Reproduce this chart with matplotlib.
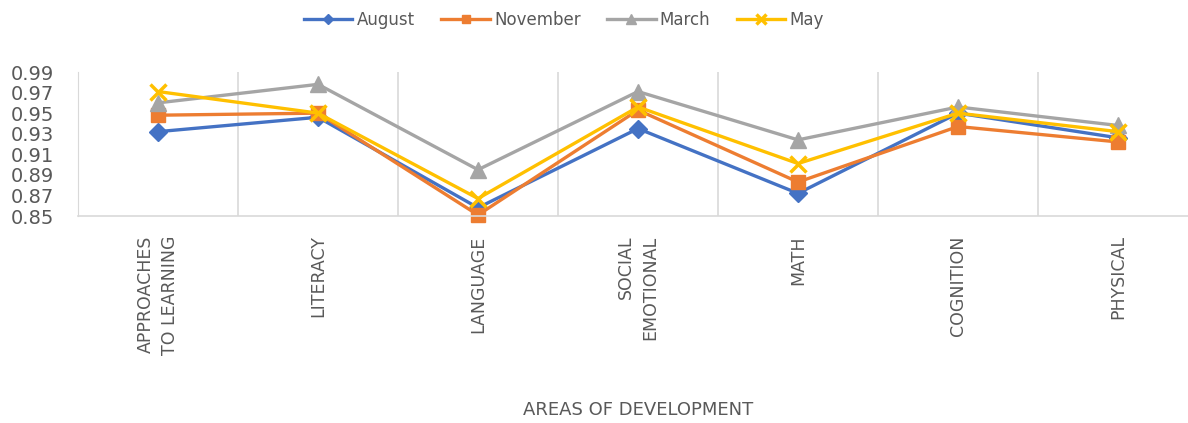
import matplotlib.pyplot as plt
import numpy as np

areas = ['APPROACHES\nTO LEARNING', 'LITERACY', 'LANGUAGE', 'SOCIAL\nEMOTIONAL',
         'MATH', 'COGNITION', 'PHYSICAL']
august = [0.932, 0.946, 0.858, 0.935, 0.872, 0.950, 0.926]
november = [0.948, 0.950, 0.851, 0.953, 0.883, 0.937, 0.922]
march = [0.960, 0.978, 0.895, 0.971, 0.924, 0.956, 0.938]
may = [0.971, 0.950, 0.867, 0.956, 0.901, 0.950, 0.932]

series = [
    ('August', august, '#4472C4', 'D', 9),
    ('November', november, '#ED7D31', 's', 10),
    ('March', march, '#A5A5A5', '^', 11),
    ('May', may, '#FFC000', 'x', 12),
]

text_color = '#595959'
grid_color = '#D9D9D9'

fig = plt.figure(figsize=(11.88, 4.23), dpi=100)
# right edge of the plot runs past the figure, as in the reference
ax = fig.add_axes([78 / 1188, 207 / 423, 1120 / 1188, 144 / 423])

x = np.arange(len(areas))
for name, vals, color, marker, ms in series:
    ax.plot(x, vals, color=color, linewidth=2.4, marker=marker, markersize=ms,
            markeredgewidth=2.5 if marker == 'x' else 1, label=name, clip_on=False)

ax.set_xlim(-0.5, len(areas) - 0.5)
ax.set_ylim(0.85, 0.99)
ax.set_yticks(np.arange(0.85, 0.991, 0.02))
ax.set_yticklabels([f'{v:.2f}' for v in np.arange(0.85, 0.991, 0.02)])
ax.tick_params(axis='y', length=0, pad=17, labelsize=14, labelcolor=text_color)

ax.set_xticks(x)
ax.set_xticklabels(areas, rotation=90, ha='center', va='top', multialignment='right',
                   fontsize=12.5, color=text_color, linespacing=1.45)
ax.tick_params(axis='x', length=0, pad=14)
ax.set_xticks(np.arange(-0.5, len(areas), 1), minor=True)
ax.tick_params(axis='x', which='minor', length=0)
ax.grid(True, axis='x', which='minor', color=grid_color, linewidth=1.2)
ax.grid(False, axis='x', which='major')

for side in ['top', 'right']:
    ax.spines[side].set_visible(False)
ax.spines['left'].set_color(grid_color)
ax.spines['bottom'].set_color(grid_color)
ax.spines['bottom'].set_linewidth(1.2)

fig.text(638 / 1188, 1 - 410 / 423, 'AREAS OF DEVELOPMENT', ha='center', va='center',
         fontsize=13, color=text_color)

fig.legend(loc='center', bbox_to_anchor=(564 / 1188, 1 - 20 / 423), ncol=4, frameon=False,
           fontsize=12, handlelength=2.9, columnspacing=1.6, handletextpad=0.25,
           labelcolor=text_color, markerscale=0.6)

fig.savefig('out.png', dpi=100)
